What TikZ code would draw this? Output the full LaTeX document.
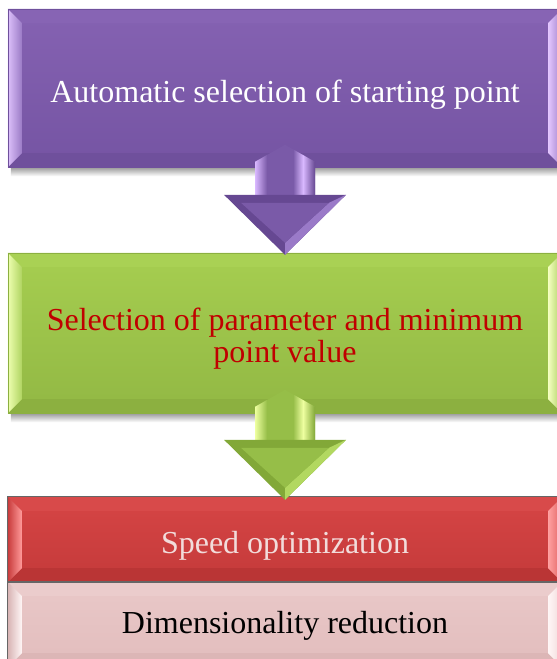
\documentclass[tikz,border=0pt]{standalone}
\usepackage{fontspec}
\setmainfont{Liberation Serif}
\usetikzlibrary{calc}
\definecolor{puT}{HTML}{8562B2}
\definecolor{puB}{HTML}{7554A3}
\definecolor{grT}{HTML}{A6CE50}
\definecolor{grB}{HTML}{92B844}
\definecolor{reT}{HTML}{D64545}
\definecolor{reB}{HTML}{C43A3A}
\definecolor{piT}{HTML}{E9C8C8}
\definecolor{piB}{HTML}{E2BDBD}
\definecolor{darkred}{HTML}{C00000}
\definecolor{palepink}{HTML}{F2DCDB}
% bevel face colours
\definecolor{puLa}{HTML}{DCC0FA}\definecolor{puLb}{HTML}{9B7BC6}
\definecolor{puRa}{HTML}{E3C6FF}\definecolor{puRb}{HTML}{9E7EC8}
\definecolor{puTop}{HTML}{8764B4}\definecolor{puBot}{HTML}{6F509C}
\definecolor{grLa}{HTML}{EEFFB0}\definecolor{grLb}{HTML}{B0D462}
\definecolor{grRa}{HTML}{F4FFC0}\definecolor{grRb}{HTML}{A8CC5A}
\definecolor{grTop}{HTML}{A9D154}\definecolor{grBot}{HTML}{8CB040}
\definecolor{reLa}{HTML}{C83C3C}\definecolor{reLb}{HTML}{FF9A9A}
\definecolor{reRa}{HTML}{FFA0A0}\definecolor{reRb}{HTML}{E06060}
\definecolor{reTop}{HTML}{D84A4A}\definecolor{reBot}{HTML}{BA3535}
\definecolor{piLa}{HTML}{D8B4B4}\definecolor{piLb}{HTML}{FFF6F6}
\definecolor{piRa}{HTML}{FFF6F6}\definecolor{piRb}{HTML}{F0D8D8}
\definecolor{piTop}{HTML}{EBCCCC}\definecolor{piBot}{HTML}{DCB6B6}
% arrow colours
\definecolor{paBase}{HTML}{7A5AA8}\definecolor{paDark}{HTML}{664892}
\definecolor{paLight}{HTML}{9A7AC8}\definecolor{paHi}{HTML}{D9B8FF}
\definecolor{gaBase}{HTML}{96BE48}\definecolor{gaDark}{HTML}{82A838}
\definecolor{gaLight}{HTML}{B2D860}\definecolor{gaHi}{HTML}{EEFFA0}
\newcommand\bevelfaces[8]{%
 \fill[#7] (#1.north west) -- (#1.north east) -- ($(#1.north east)+(-#2,-#2)$) -- ($(#1.north west)+(#2,-#2)$) -- cycle;
 \fill[#8] (#1.south west) -- (#1.south east) -- ($(#1.south east)+(-#2,#2)$) -- ($(#1.south west)+(#2,#2)$) -- cycle;
 \shade[left color=#3,right color=#4] (#1.north west) -- ($(#1.north west)+(#2,-#2)$) -- ($(#1.south west)+(#2,#2)$) -- (#1.south west) -- cycle;
 \shade[left color=#5,right color=#6] (#1.north east) -- ($(#1.north east)+(-#2,-#2)$) -- ($(#1.south east)+(-#2,#2)$) -- (#1.south east) -- cycle;
}
\newcommand\blockarrow[5]{%
 \begin{scope}[shift={(#1)}]
  \fill[#2] (-30,60) -- (-30,93) -- (0,110) -- (30,93) -- (30,60) -- cycle;
  \shade[left color=#5, right color=#2] (-30,60) -- (-30,93) -- (-18,99.8) -- (-18,60) -- cycle;
  \shade[left color=#2, right color=#5] (8,60) -- (8,105.5) -- (18,99.8) -- (18,60) -- cycle;
  \shade[left color=#5, right color=#3] (18,60) -- (18,99.8) -- (30,93) -- (30,60) -- cycle;
  \fill[#3] (0,0) -- (-61,60) -- (61,60) -- cycle;
  \fill[#4] (0,0) -- (61,60) -- (44,52) -- (0,12) -- cycle;
  \fill[#2] (0,12) -- (-44,52) -- (44,52) -- cycle;
 \end{scope}}
\tikzset{
 boxbase/.style={rectangle, minimum width=554pt, inner sep=0pt},
 boxtext/.style={font=\fontsize{32}{37}\selectfont, align=center},
 shadowfx/.style={top color=black!40, bottom color=white}
}
\begin{document}
\begin{tikzpicture}[x=1pt,y=1pt]
\useasboundingbox (0,0) rectangle (557,-659);
\clip (0,0) rectangle (557,-659);
% boxes
\node[boxbase, minimum height=158pt, top color=puT, bottom color=puB] (b1) at (285,-88) {};
\node[boxbase, minimum height=160pt, top color=grT, bottom color=grB] (b2) at (285,-333) {};
\node[boxbase, minimum height=85pt, top color=reT, bottom color=reB] (b3) at (285,-539.5) {};
\node[boxbase, minimum height=85pt, top color=piT, bottom color=piB] (b4) at (285,-624.5) {};
% shadows
\shade[shadowfx] ($(b1.south west)+(3,0)$) rectangle ($(b1.south east)+(0,-9)$);
\shade[shadowfx] ($(b2.south west)+(3,0)$) rectangle ($(b2.south east)+(0,-9)$);
% bevels
\bevelfaces{b1}{14}{puLa}{puLb}{puRa}{puRb}{puTop}{puBot}
\bevelfaces{b2}{14}{grLa}{grLb}{grRa}{grRb}{grTop}{grBot}
\bevelfaces{b3}{14}{reLa}{reLb}{reRa}{reRb}{reTop}{reBot}
\bevelfaces{b4}{14}{piLa}{piLb}{piRa}{piRb}{piTop}{piBot}
% outlines
\draw[puBot, line width=0.6pt] (b1.north west) rectangle (b1.south east);
\draw[grBot, line width=0.6pt] (b2.north west) rectangle (b2.south east);
\draw[black!60, line width=0.8pt] (b3.north west) rectangle (b3.south east);
\draw[black!60, line width=0.8pt] (b4.north west) rectangle (b4.south east);
% texts
\node[boxtext, text=white] (t1) at ($(b1.center)+(0,-7)$) {Automatic selection of starting point};
\node[boxtext, text=darkred] (t2) at ($(b2.center)+(0,-6)$) {Selection of parameter and minimum\\[-5pt]point value};
\node[boxtext, text=palepink] (t3) at ($(b3.center)+(0,-6)$) {Speed optimization};
\node[boxtext, text=black] (t4) at ($(b4.center)+(0,-1)$) {Dimensionality reduction};
% arrows
\coordinate (a1) at ($(b2.north)+(0,-2)$);
\coordinate (a2) at ($(b3.north)+(0,-3)$);
\blockarrow{a1}{paBase}{paDark}{paLight}{paHi}
\blockarrow{a2}{gaBase}{gaDark}{gaLight}{gaHi}
\end{tikzpicture}
\end{document}
